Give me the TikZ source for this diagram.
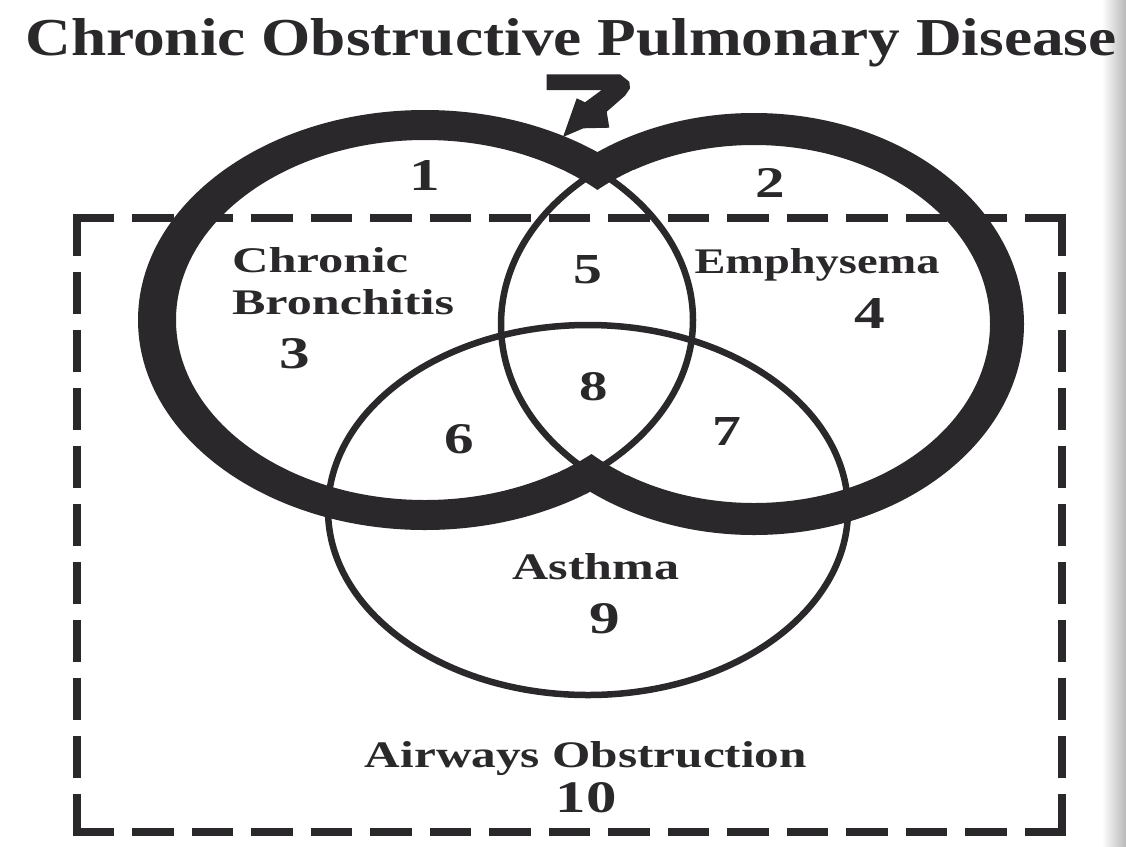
\documentclass[tikz,border=0pt]{standalone}
\usepackage{fontspec}
\setmainfont{Liberation Serif}
\usepackage{graphicx}
\definecolor{ink}{RGB}{42,40,42}
\newcommand{\Dg}[2]{\scalebox{1.35}[1]{\resizebox{!}{#1pt}{\bfseries #2}}}
\newcommand{\Tx}[3]{\resizebox{#1pt}{#2pt}{\bfseries #3}}
\begin{document}
\begin{tikzpicture}[x=1pt,y=-1pt,
  lbl/.style={inner sep=0pt, outer sep=0pt, anchor=base, text=ink},
  cline/.style={draw=ink, line width=6.5pt},
  dashline/.style={draw=ink, line width=8.5pt, line cap=butt},
  band/.style={fill=ink, even odd rule}]
\useasboundingbox (0,0) rectangle (1126,846);
\fill[white] (0,0) rectangle (1126,846);
\shade[left color=white, right color=black!28] (1102,0) rectangle (1126,846);

\coordinate (L) at (425,320);
\coordinate (R) at (754,324);
\coordinate (A) at (588,510);

% thick bands
\fill[band] (L) ellipse [x radius=287pt, y radius=210pt] (L) ellipse [x radius=249pt, y radius=180pt];
\fill[band] (R) ellipse [x radius=270pt, y radius=211pt] (R) ellipse [x radius=236pt, y radius=179pt];
\begin{scope}
  \clip (R) ellipse [x radius=236pt, y radius=179pt];
  \fill[white] (L) ellipse [x radius=292pt, y radius=215pt];
\end{scope}
\begin{scope}
  \clip (L) ellipse [x radius=249pt, y radius=180pt];
  \fill[white] (R) ellipse [x radius=275pt, y radius=216pt];
\end{scope}

% thin outlines
\draw[cline] (L) ellipse [x radius=268pt, y radius=195pt];
\draw[cline] (R) ellipse [x radius=253pt, y radius=195pt];
\draw[cline] (A) ellipse [x radius=260pt, y radius=185pt];

% arrow mark at top
\fill[ink] (546.7,74.3) -- (620,74.3) -- (629.3,81.7) -- (630,88.3) -- (625,95.7)
  -- (606.7,111.7) -- (609.3,127.7) -- (583.3,128.3) -- (563,137) -- (576.7,98.3)
  -- (585,102.3) -- (601.7,90) -- (546.7,90) -- cycle;

% dashed rectangle
\coordinate (c1) at (77,218);
\coordinate (c2) at (1062,218);
\coordinate (c3) at (1062,832);
\coordinate (c4) at (77,832);
\draw[dashline, dash pattern=on 41.5pt off 18pt] ([xshift=-4.25pt]c1) -- ([xshift=4.25pt]c2);
\draw[dashline, dash pattern=on 41.5pt off 18pt] ([xshift=-4.25pt]c4) -- ([xshift=4.25pt]c3);
\draw[dashline, dash pattern=on 42pt off 16pt] ([yshift=4.25pt]c1) -- ([yshift=-4.25pt]c4);
\draw[dashline, dash pattern=on 42pt off 16pt] ([yshift=4.25pt]c2) -- ([yshift=-4.25pt]c3);

% texts
\node[lbl] (title) at (571,55) {\Tx{1091}{37}{Chronic Obstructive Pulmonary Disease}};
\node[lbl, anchor=base west] (cb1) at (232,272) {\Tx{176}{25}{Chronic}};
\node[lbl, anchor=base west] (cb2) at (232,314) {\Tx{222}{25}{Bronchitis}};
\node[lbl] (emph) at (817,273) {\Tx{245}{25}{Emphysema}};
\node[lbl] (asth) at (596,579) {\Tx{167}{26}{Asthma}};
\node[lbl] (airw) at (586,767) {\Tx{442}{26}{Airways Obstruction}};

\node[lbl] (n1) at (425,190) {\Dg{30}{1}};
\node[lbl] (n2) at (770,197) {\Dg{29}{2}};
\node[lbl] (n3) at (295,368) {\Dg{30}{3}};
\node[lbl] (n4) at (870,328) {\Dg{30}{4}};
\node[lbl] (n5) at (588,283) {\Dg{28}{5}};
\node[lbl] (n6) at (459,453) {\Dg{29}{6}};
\node[lbl] (n7) at (727,445) {\Dg{28}{7}};
\node[lbl] (n8) at (594,400) {\Dg{28}{8}};
\node[lbl] (n9) at (605,633) {\Dg{30}{9}};
\node[lbl] (n10) at (586,812) {\Dg{30}{10}};
\end{tikzpicture}
\end{document}
